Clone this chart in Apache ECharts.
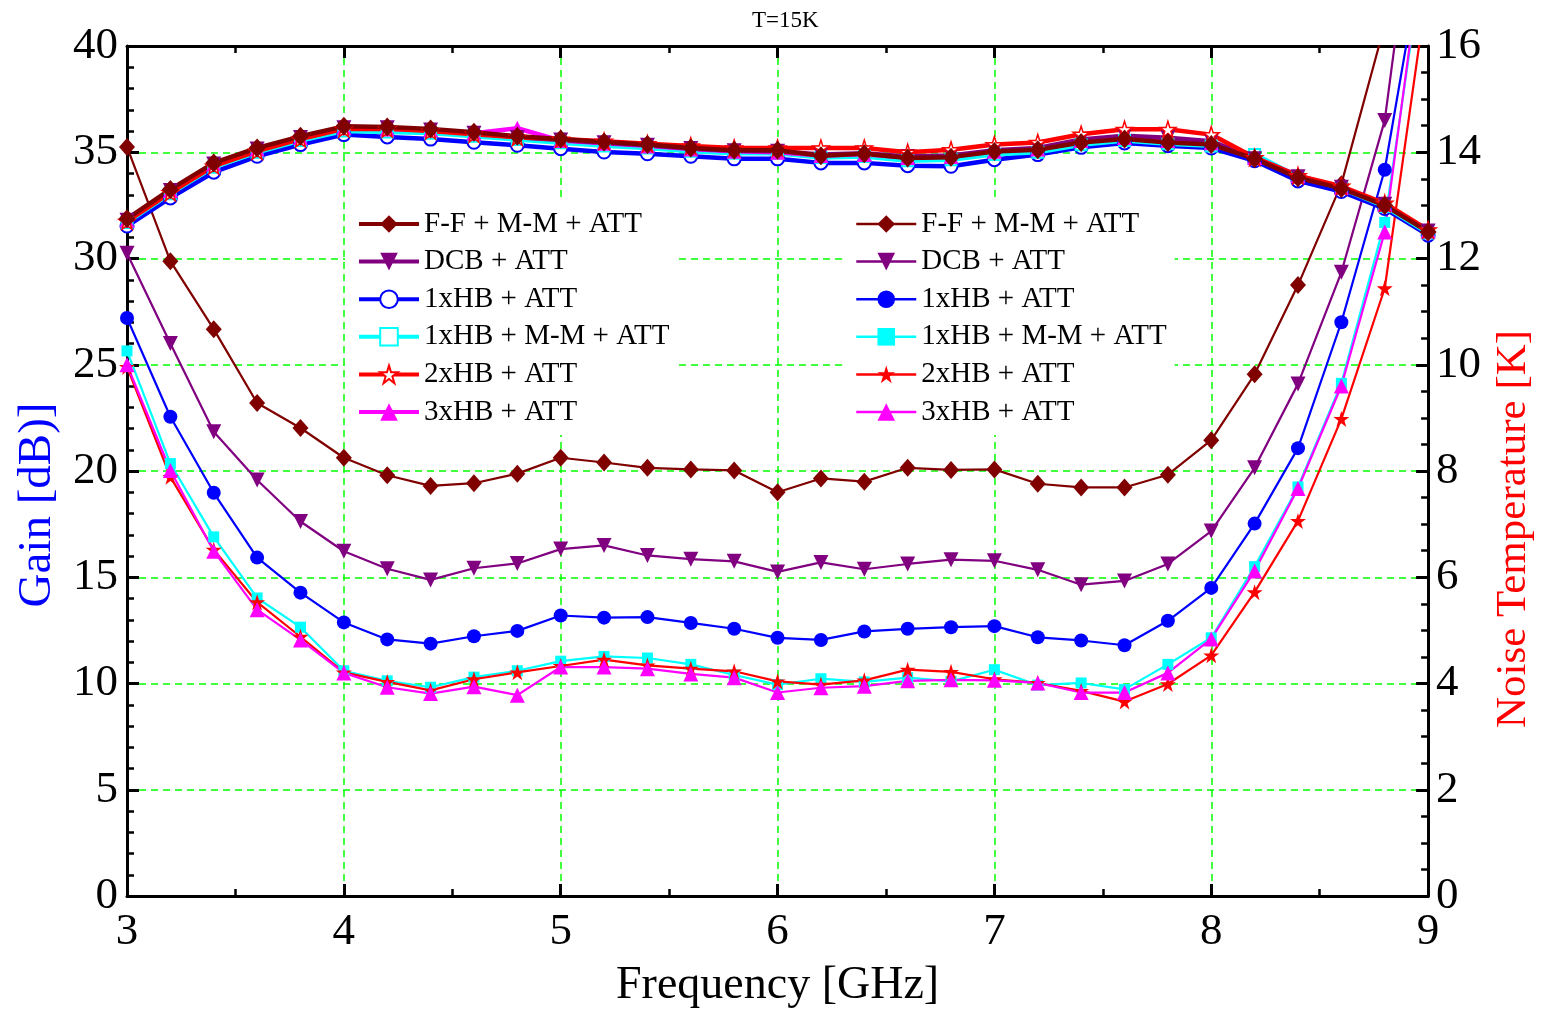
<!DOCTYPE html>
<html>
<head>
<meta charset="utf-8">
<script src="https://cdn.jsdelivr.net/npm/echarts@6/dist/echarts.min.js"></script>
<style>
html,body{margin:0;padding:0;background:#fff;overflow:hidden;}
#chart{width:1543px;height:1014px;}
</style>
</head>
<body>
<div id="chart"></div>
<script>
// ---- data ----
const freq = [3.0,3.2,3.4,3.6,3.8,4.0,4.2,4.4,4.6,4.8,5.0,5.2,5.4,5.6,5.8,6.0,6.2,6.4,6.6,6.8,7.0,7.2,7.4,7.6,7.8,8.0,8.2,8.4,8.6,8.8,9.0];
const seriesNames = ["F-F + M-M + ATT","DCB + ATT","1xHB + ATT","1xHB + M-M + ATT","2xHB + ATT","3xHB + ATT"];

// Gain [dB]
const gainFF   = [31.87,33.25,34.5,35.2,35.75,36.22,36.19,36.1,35.94,35.75,35.62,35.48,35.36,35.2,35.09,35.09,34.84,34.93,34.73,34.77,35.04,35.12,35.46,35.62,35.46,35.36,34.7,33.8,33.3,32.5,31.25];
const gainDCB  = [31.8,33.2,34.45,35.15,35.7,36.15,36.15,36.05,35.9,35.7,35.58,35.45,35.33,35.18,35.07,35.05,34.9,34.95,34.8,34.85,35.1,35.2,35.6,35.78,35.68,35.52,34.7,33.85,33.35,32.55,31.3];
const gain1HB  = [31.53,32.85,34.06,34.81,35.36,35.83,35.72,35.62,35.47,35.33,35.17,35.01,34.93,34.81,34.69,34.69,34.5,34.5,34.37,34.34,34.65,34.89,35.23,35.44,35.31,35.2,34.6,33.65,33.15,32.35,31.1];
const gain1HBMM= [31.7,33.05,34.3,35.0,35.55,36.0,35.95,35.9,35.75,35.6,35.45,35.3,35.2,35.05,34.95,34.95,34.75,34.8,34.6,34.65,34.9,35.0,35.35,35.55,35.4,35.3,34.9,33.85,33.3,32.45,31.2];
const gain2HB  = [31.75,33.1,34.35,35.05,35.62,36.1,36.1,36.0,35.85,35.7,35.62,35.52,35.4,35.3,35.2,35.2,35.2,35.2,35.0,35.12,35.36,35.46,35.85,36.08,36.08,35.83,34.75,33.9,33.4,32.6,31.35];
const gain3HB  = [31.8,33.2,34.45,35.15,35.7,36.15,36.1,36.05,35.9,36.13,35.55,35.42,35.3,35.15,35.05,35.0,34.85,34.9,34.75,34.8,35.05,35.15,35.55,35.7,35.55,35.45,34.75,33.9,33.35,32.55,31.3];

// Noise temperature [K]
const noiseFF   = [14.1,11.95,10.67,9.28,8.81,8.25,7.92,7.72,7.77,7.95,8.25,8.16,8.06,8.03,8.01,7.6,7.86,7.8,8.06,8.02,8.03,7.76,7.69,7.69,7.93,8.58,9.82,11.5,13.4,16.4,20.0];
const noiseDCB  = [12.1,10.4,8.74,7.83,7.05,6.49,6.16,5.95,6.17,6.26,6.53,6.6,6.41,6.34,6.3,6.1,6.28,6.15,6.25,6.33,6.31,6.14,5.86,5.93,6.25,6.87,8.06,9.64,11.74,14.6,20.8];
const noise1HB  = [10.88,9.02,7.59,6.37,5.71,5.15,4.83,4.75,4.89,4.99,5.28,5.24,5.25,5.14,5.03,4.86,4.82,4.98,5.03,5.06,5.08,4.87,4.81,4.72,5.18,5.8,7.01,8.43,10.8,13.67,18.4];
const noise1HBMM= [10.26,8.14,6.76,5.61,5.06,4.24,4.05,3.93,4.12,4.24,4.42,4.51,4.48,4.36,4.16,3.98,4.09,4.03,4.11,4.04,4.26,3.97,4.01,3.89,4.36,4.86,6.2,7.7,9.65,12.68,18.3];
const noise2HB  = [9.96,7.89,6.52,5.53,4.88,4.21,4.03,3.87,4.08,4.21,4.33,4.45,4.34,4.28,4.23,4.04,3.98,4.06,4.26,4.22,4.08,4.01,3.86,3.66,3.99,4.53,5.72,7.06,8.98,11.44,17.2];
const noise3HB  = [10.0,8.01,6.49,5.39,4.82,4.2,3.93,3.81,3.94,3.78,4.31,4.31,4.28,4.18,4.11,3.83,3.92,3.95,4.05,4.07,4.06,4.01,3.83,3.83,4.2,4.84,6.12,7.67,9.6,12.5,18.6];

const xTicks = {min:3, max:9, interval:1};
const gainTicks = {min:0, max:40, interval:5};
const noiseTicks = {min:0, max:16, interval:2};

// ---- styling ----
const FONT = 'Liberation Serif';
const STAR = 'path://M50,0 L61.2,34.5 L97.6,34.5 L68.2,55.9 L79.4,90.5 L50,69.1 L20.6,90.5 L31.8,55.9 L2.4,34.5 L38.8,34.5 Z';
const colors = ['#800000','#800080','#0000ff','#00ffff','#ff0000','#ff00ff'];
const gainData = [gainFF,gainDCB,gain1HB,gain1HBMM,gain2HB,gain3HB];
const noiseData = [noiseFF,noiseDCB,noise1HB,noise1HBMM,noise2HB,noise3HB];

const gainSym = [
  {symbol:'diamond', size:[17,19]},
  {symbol:'triangle', size:15, rotate:180},
  {symbol:'emptyCircle', size:13},
  {symbol:'emptyRect', size:11},
  {symbol:STAR, size:16, hollow:true},
  {symbol:'triangle', size:15}
];
const noiseSym = [
  {symbol:'diamond', size:[16,18]},
  {symbol:'triangle', size:15, rotate:180},
  {symbol:'circle', size:14},
  {symbol:'rect', size:11},
  {symbol:STAR, size:16},
  {symbol:'triangle', size:15}
];

function pairs(ys){ return freq.map((f,i)=>[f, ys[i]]); }

const series = [];
const noiseNames = seriesNames.map(n => n + ' ');
for (let i=0;i<6;i++){
  const s = noiseSym[i];
  series.push({
    name: noiseNames[i], type:'line', yAxisIndex:1, xAxisIndex:0,
    data: pairs(noiseData[i]),
    symbol: s.symbol, symbolSize: s.size, symbolRotate: s.rotate||0,
    showAllSymbol:true, clip:true,
    lineStyle:{color:colors[i], width:2.2},
    itemStyle:{color:colors[i]},
    z: 2
  });
}
const gainOrder = [2,3,5,1,4,0];
for (const i of gainOrder){
  const s = gainSym[i];
  const it = s.hollow ? {color:'#ffffff', borderColor:colors[i], borderWidth:1.5}
           : (s.symbol.indexOf('empty')===0 ? {color:colors[i], borderWidth:1.6} : {color:colors[i]});
  series.push({
    name: seriesNames[i], type:'line', yAxisIndex:0, xAxisIndex:0,
    data: pairs(gainData[i]),
    symbol: s.symbol, symbolSize: s.size, symbolRotate: s.rotate||0,
    showAllSymbol:true, clip:true,
    lineStyle:{color:colors[i], width:4.5},
    itemStyle: it,
    z: 3
  });
}

const axisLine = {show:true, onZero:false, lineStyle:{color:'#000', width:3}};
const gridLine = {show:true, lineStyle:{color:'#00ff00', type:[7,5], width:1.5}};
const tickStyle = {color:'#000', width:3};
const minorStyle = {color:'#000', width:2.5};
const labelStyle = {fontFamily:FONT, fontSize:45, color:'#000'};

const legendBase = {
  orient:'vertical', itemWidth:60, itemHeight:22, itemGap:7.6,
  backgroundColor:'#ffffff', padding:[10,8,8,12],
  textStyle:{fontFamily:FONT, fontSize:29, color:'#000', lineHeight:30},
  formatter: n => n.trim(),
  selectedMode:false
};

const option = {
  animation:false,
  backgroundColor:'#ffffff',
  title:{text:'T=15K', left:747, top:4, textStyle:{fontFamily:FONT, fontSize:23, fontWeight:'normal', color:'#000'}},
  grid:{left:127, right:110, top:46, bottom:115, containLabel:false},
  legend:[
    Object.assign({}, legendBase, {left:345, top:199, data:seriesNames, lineStyle:{width:4}}),
    Object.assign({}, legendBase, {left:843, top:199, data:noiseNames, lineStyle:{width:2.5}})
  ],
  xAxis:[
    {type:'value', position:'bottom', min:xTicks.min, max:xTicks.max, interval:xTicks.interval,
     axisLine, axisTick:{show:true, inside:true, length:12, lineStyle:tickStyle},
     minorTick:{show:true, splitNumber:2, length:7, lineStyle:minorStyle},
     axisLabel:Object.assign({margin:14}, labelStyle),
     splitLine:gridLine,
     name:'Frequency [GHz]', nameLocation:'middle', nameGap:67,
     nameTextStyle:{fontFamily:FONT, fontSize:46, color:'#000'}},
    {type:'value', position:'top', min:xTicks.min, max:xTicks.max, interval:xTicks.interval,
     axisLine, axisTick:{show:true, inside:true, length:12, lineStyle:tickStyle},
     minorTick:{show:true, splitNumber:2, length:7, lineStyle:minorStyle},
     axisLabel:{show:false}, splitLine:{show:false}}
  ],
  yAxis:[
    {type:'value', position:'left', min:gainTicks.min, max:gainTicks.max, interval:gainTicks.interval,
     axisLine, axisTick:{show:true, inside:true, length:12, lineStyle:tickStyle},
     minorTick:{show:true, splitNumber:5, length:7, lineStyle:minorStyle},
     axisLabel:Object.assign({margin:9}, labelStyle),
     splitLine:gridLine,
     name:'Gain [dB)]', nameLocation:'middle', nameGap:66,
     nameTextStyle:{fontFamily:FONT, fontSize:47, color:'#0000ff', padding:[0,68,0,0]}},
    {type:'value', position:'right', min:noiseTicks.min, max:noiseTicks.max, interval:noiseTicks.interval,
     axisLine, axisTick:{show:true, inside:true, length:12, lineStyle:tickStyle},
     minorTick:{show:true, splitNumber:4, length:7, lineStyle:minorStyle},
     axisLabel:Object.assign({margin:8}, labelStyle),
     splitLine:{show:false},
     name:'Noise Temperature [K]', nameLocation:'middle', nameGap:60,
     nameTextStyle:{fontFamily:FONT, fontSize:43, color:'#ff0000', padding:[0,116,0,0]}}
  ],
  series
};

const chart = echarts.init(document.getElementById('chart'), null, {renderer:'canvas'});
chart.setOption(option);
</script>
</body>
</html>
